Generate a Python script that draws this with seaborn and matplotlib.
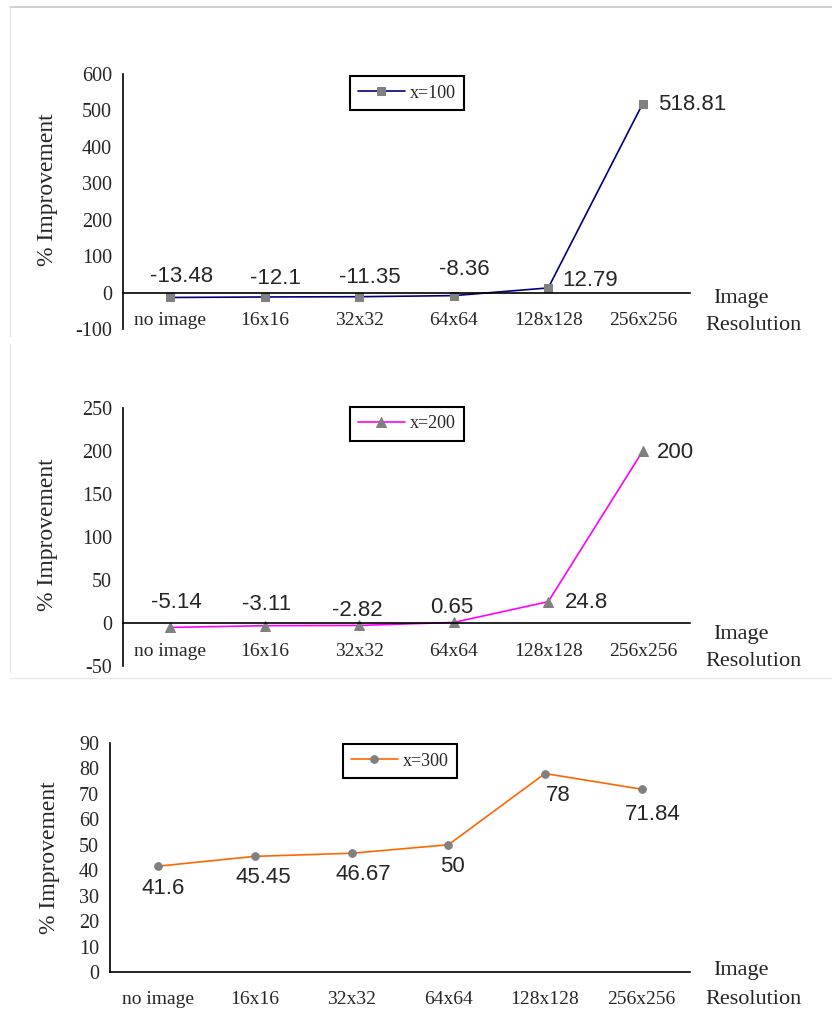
import numpy as np
import pandas as pd
import seaborn as sns
import matplotlib.pyplot as plt
from matplotlib.lines import Line2D

# data
categories = ['no image', '16x16', '32x32', '64x64', '128x128', '256x256']
improve_100 = [-13.48, -12.1, -11.35, -8.36, 12.79, 518.81]
improve_200 = [-5.14, -3.11, -2.82, 0.65, 24.8, 200]
improve_300 = [41.6, 45.45, 46.67, 50, 78, 71.84]
labels_100 = ['-13.48', '-12.1', '-11.35', '-8.36', '12.79', '518.81']
labels_200 = ['-5.14', '-3.11', '-2.82', '0.65', '24.8', '200']
labels_300 = ['41.6', '45.45', '46.67', '50', '78', '71.84']

sns.set_style('white')
plt.rcParams['font.family'] = ['Liberation Serif', 'DejaVu Serif']

W, H = 832, 1014
fig = plt.figure(figsize=(W / 100, H / 100), dpi=100)


def px_box(left, right, top, bottom):
    return [left / W, 1 - bottom / H, (right - left) / W, (bottom - top) / H]


panels = [
    dict(values=improve_100, labels=labels_100, name='x=100', color='#000080', marker='s', ms=5.5,
         box=px_box(123, 690, 74, 329), ylim=(-100, 600), yticks=np.arange(-100, 601, 100),
         cat_y=0.035, legend=(407, 93), ylab=(48, 190), img_y=298,
         offsets=[(11, 21), (11, 18), (11, 19), (11, 26), (42, 7), (49, -1)]),
    dict(values=improve_200, labels=labels_200, name='x=200', color='#FF00FF', marker='^', ms=6.5,
         box=px_box(123, 690, 408, 666), ylim=(-50, 250), yticks=np.arange(-50, 251, 50),
         cat_y=0.058, legend=(407, 424), ylab=(48, 535), img_y=634,
         offsets=[(6, 25), (2, 21), (-2, 15), (-2, 15), (38, -1), (33, -1)]),
    dict(values=improve_300, labels=labels_300, name='x=300', color='#FF6600', marker='o', ms=5.5,
         box=px_box(110, 690, 743, 972), ylim=(0, 90), yticks=np.arange(0, 91, 10),
         cat_y=-0.12, legend=(400, 761), ylab=(50, 858), img_y=971,
         offsets=[(5, -22), (8, -21), (12, -21), (4, -22), (13, -22), (11, -25)]),
]

for p in panels:
    ax = fig.add_axes(p['box'])
    df = pd.DataFrame({'res': categories, 'val': p['values']})
    sns.lineplot(data=df, x='res', y='val', ax=ax, sort=False, color=p['color'], lw=1.2,
                 marker=p['marker'], markersize=p['ms'], markerfacecolor='#808080',
                 markeredgecolor='#808080', label=p['name'])
    ax.set_xlim(-0.5, 5.5)
    ax.set_ylim(*p['ylim'])
    ax.set_yticks(p['yticks'])
    ax.set_yticklabels([str(v) for v in p['yticks']], fontsize=14.5)
    ax.set_xlabel('')
    ax.set_ylabel('')
    for s in ['top', 'right']:
        ax.spines[s].set_visible(False)
    for s in ['left', 'bottom']:
        ax.spines[s].set_color('black')
        ax.spines[s].set_linewidth(1.2)
    ax.spines['bottom'].set_position(('data', 0))
    ax.set_xticks(np.arange(0.5, 6, 1))
    ax.set_xticklabels([])
    ax.tick_params(axis='both', direction='out', length=5, width=1.1, color='black', pad=3)

    # category labels sit at the bottom of the plot area, like Excel "low" labels
    for i, cat in enumerate(categories):
        ax.text(i, p['cat_y'], cat, transform=ax.get_xaxis_transform(),
                ha='center', va='center', fontsize=14)

    # data labels
    for i, (v, lab) in enumerate(zip(p['values'], p['labels'])):
        ax.annotate(lab, (i, v), xytext=p['offsets'][i], textcoords='offset pixels',
                    ha='center', va='center', fontsize=16, family='Liberation Sans')

    lx, ly = p['legend']
    leg = ax.legend(loc='center', bbox_to_anchor=(lx / W, 1 - ly / H), bbox_transform=fig.transFigure,
                    fancybox=False, framealpha=1, edgecolor='black', fontsize=13,
                    handlelength=2.6, handletextpad=0.3, borderpad=0.45, borderaxespad=0)
    leg.get_frame().set_linewidth(1.5)

    fig.text(p['ylab'][0] / W, 1 - p['ylab'][1] / H, '% Improvement', rotation=90,
             ha='center', va='center', fontsize=17)
    fig.text(741 / W, 1 - p['img_y'] / H, 'Image', ha='center', va='center', fontsize=16)
    fig.text(753 / W, 1 - (p['img_y'] + 28) / H, 'Resolution', ha='center', va='center', fontsize=16)

# faint frame lines from the pasted charts
gray = '#c8c8c8'
fig.add_artist(Line2D([10 / W, 1], [1 - 7 / H, 1 - 7 / H], color=gray, lw=1.2))
fig.add_artist(Line2D([10 / W, 10 / W], [1 - 7 / H, 1 - 336 / H], color='#e4e4e4', lw=1))
fig.add_artist(Line2D([10 / W, 10 / W], [1 - 344 / H, 1 - 672 / H], color='#e4e4e4', lw=1))
fig.add_artist(Line2D([10 / W, 1], [1 - 678 / H, 1 - 678 / H], color='#e8e8e8', lw=1))

fig.savefig('out.png', dpi=100)
